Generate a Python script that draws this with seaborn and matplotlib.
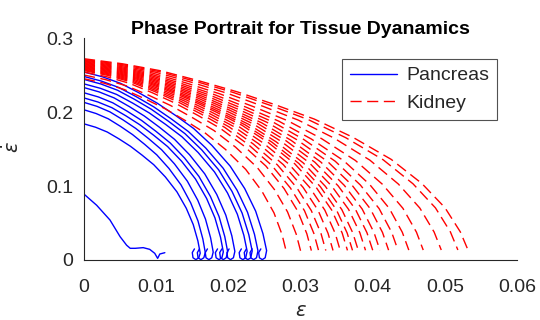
import numpy as np
import pandas as pd
import matplotlib
matplotlib.use("Agg")
import matplotlib.pyplot as plt
import seaborn as sns

# ---------------- data ----------------
# Pancreas trajectories: value of eps_dot at eps=0 and eps where they reach the axis
PANCREAS_Y0 = [0.254, 0.248, 0.244, 0.238, 0.233, 0.226, 0.219, 0.213, 0.203, 0.184]
PANCREAS_XEND = [0.0253, 0.0241, 0.0233, 0.0226, 0.0209, 0.0199, 0.0193, 0.0179, 0.0168, 0.0161]

# Kidney trajectories
KIDNEY_Y0 = [0.272, 0.271, 0.270, 0.269, 0.268, 0.267, 0.266, 0.265, 0.264, 0.263,
             0.262, 0.261, 0.260, 0.259, 0.258, 0.257, 0.256, 0.254, 0.250, 0.245]
KIDNEY_XEND = [0.0532, 0.0518, 0.0495, 0.0470, 0.0450, 0.0435, 0.0422, 0.0410, 0.0400, 0.0390,
               0.0380, 0.0372, 0.0365, 0.0355, 0.0345, 0.0335, 0.0325, 0.0315, 0.0300, 0.0280]

# common normalised arc shape (fraction of end-eps, fraction of start eps_dot)
PROFILE_U = [0, 0.1, 0.2, 0.3, 0.4, 0.5, 0.6, 0.7, 0.8, 0.88, 0.94, 0.98, 1.0]
PROFILE_V = [1, 0.975, 0.94, 0.89, 0.835, 0.77, 0.70, 0.61, 0.50, 0.38, 0.26, 0.14, 0.05]

# small loop at the end of the pancreas arcs (offset in eps, absolute eps_dot)
HOOK_DX = [-0.0002, -0.0006, -0.0010, -0.0011, -0.0008]
HOOK_Y = [0.003, 0.0005, 0.003, 0.010, 0.015]

# the short pancreas trajectory
SMALL_X = [0.0, 0.00175, 0.0036, 0.0050, 0.0059, 0.0064, 0.0071, 0.0082, 0.0091, 0.0098, 0.0102, 0.0105, 0.0112]
SMALL_Y = [0.089, 0.074, 0.054, 0.0315, 0.020, 0.0158, 0.0158, 0.0167, 0.0144, 0.009, 0.0022, 0.0081, 0.0099]

XTICKS = [0, 0.01, 0.02, 0.03, 0.04, 0.05, 0.06]
XTICK_LABELS = ["0", "0.01", "0.02", "0.03", "0.04", "0.05", "0.06"]
YTICKS = [0, 0.1, 0.2, 0.3]
YTICK_LABELS = ["0", "0.1", "0.2", "0.3"]

# ---------------- build table ----------------
rows = []
cid = 0
for y0, xe in zip(PANCREAS_Y0, PANCREAS_XEND):
    for u, v in zip(PROFILE_U, PROFILE_V):
        rows.append(("Pancreas", cid, u * xe, v * y0))
    for dx, hy in zip(HOOK_DX, HOOK_Y):
        rows.append(("Pancreas", cid, xe + dx, hy))
    cid += 1
for x, y in zip(SMALL_X, SMALL_Y):
    rows.append(("Pancreas", cid, x, y))
cid += 1
for y0, xe in zip(KIDNEY_Y0, KIDNEY_XEND):
    for u, v in zip(PROFILE_U, PROFILE_V):
        rows.append(("Kidney", cid, u * xe, v * y0))
    cid += 1
df = pd.DataFrame(rows, columns=["tissue", "curve", "x", "y"])

# ---------------- plot ----------------
sns.set_theme(style="white")
plt.rcParams["font.family"] = ["Liberation Sans", "DejaVu Sans"]
plt.rcParams["mathtext.fontset"] = "dejavusans"

GRAY = "#262626"
fig = plt.figure(figsize=(5.4, 3.2), dpi=100)
ax = fig.add_axes([0.1556, 0.1875, 0.8019, 0.6937])

sns.lineplot(data=df, x="x", y="y", hue="tissue", style="tissue", units="curve",
             estimator=None, sort=False, hue_order=["Pancreas", "Kidney"],
             style_order=["Pancreas", "Kidney"],
             palette={"Pancreas": "#0000ff", "Kidney": "#ff0000"},
             dashes={"Pancreas": "", "Kidney": (8, 4)}, lw=1.0, ax=ax)

ax.set_xlim(0, 0.06)
ax.set_ylim(0, 0.3)
ax.set_xticks(XTICKS)
ax.set_xticklabels(XTICK_LABELS)
ax.set_yticks(YTICKS)
ax.set_yticklabels(YTICK_LABELS)
ax.tick_params(axis="both", direction="in", length=4, width=0.8, colors=GRAY, labelsize=14)
ax.tick_params(axis="x", pad=14)
ax.tick_params(axis="y", pad=8)
for s in ["top", "right"]:
    ax.spines[s].set_visible(False)
for s in ["left", "bottom"]:
    ax.spines[s].set_color(GRAY)
    ax.spines[s].set_linewidth(0.8)

ax.set_title("Phase Portrait for Tissue Dyanamics", fontsize=14, fontweight="bold",
             color="black", pad=3)
ax.set_xlabel(r"$\epsilon$", fontsize=14, color=GRAY)
ax.set_ylabel(r"$\dot{\epsilon}$", fontsize=14, color=GRAY, rotation=90)
ax.xaxis.set_label_coords(0.5, -0.195)
ax.yaxis.set_label_coords(-0.14, 0.51)

handles, labels = ax.get_legend_handles_labels()
for h in handles:
    h.set_linewidth(1.0)
leg = ax.legend(handles, labels, loc="upper right", bbox_to_anchor=(0.954, 0.905),
                frameon=True, fancybox=False, fontsize=14, handlelength=2.4,
                borderpad=0.4, labelspacing=0.5, handletextpad=0.5, borderaxespad=0)
leg.get_frame().set_edgecolor(GRAY)
leg.get_frame().set_linewidth(0.8)
for t in leg.get_texts():
    t.set_color(GRAY)

fig.savefig("out.png", dpi=100)
